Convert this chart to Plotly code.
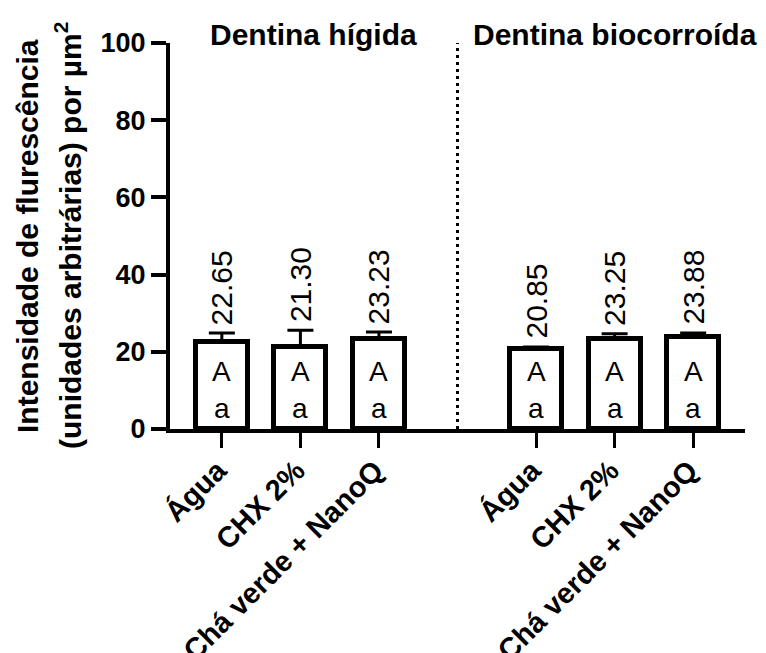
import plotly.graph_objects as go

# ---- data ----
groups = ["Dentina hígida", "Dentina biocorroída"]
treatments = ["Água", "CHX 2%", "Chá verde + NanoQ"]
means_higida = [22.65, 21.30, 23.23]
means_bio = [20.85, 23.25, 23.88]
err_higida = [2.2, 4.3, 1.9]
err_bio = [0.4, 1.4, 1.0]
upper_letters = ["A", "A", "A", "A", "A", "A"]
lower_letters = ["a", "a", "a", "a", "a", "a"]
y_ticks = [0, 20, 40, 60, 80, 100]
y_title_lines = ["Intensidade de flurescência", "(unidades arbitrárias) por µm<sup>2</sup>"]

# ---- derived ----
n = len(treatments)
means = means_higida + means_bio
errs = err_higida + err_bio
pos = [g * (n + 1) + i for g in range(len(groups)) for i in range(n)]
labels = treatments * len(groups)

FONT = "Liberation Sans, Arial, Helvetica, sans-serif"

fig = go.Figure()
fig.add_trace(go.Bar(
    x=pos, y=means, width=0.66,
    marker=dict(color="white", line=dict(color="black", width=5)),
    error_y=dict(type="data", symmetric=False, array=errs,
                 arrayminus=[0] * len(errs), color="black",
                 thickness=3, width=13),
    hoverinfo="skip", showlegend=False,
))

ann = []
for x, m, e in zip(pos, means, errs):
    ann.append(dict(x=x, y=m + e, xref="x", yref="y", text=f"{m:.2f}",
                    textangle=-90, showarrow=False, xanchor="center",
                    yanchor="bottom", yshift=6,
                    font=dict(family=FONT, size=30, color="black")))
for x, up, lo in zip(pos, upper_letters, lower_letters):
    ann.append(dict(x=x, y=15.0, xref="x", yref="y", text=up, showarrow=False,
                    xanchor="center", yanchor="middle",
                    font=dict(family=FONT, size=28, color="black")))
    ann.append(dict(x=x, y=5.4, xref="x", yref="y", text=lo, showarrow=False,
                    xanchor="center", yanchor="middle",
                    font=dict(family=FONT, size=28, color="black")))

title_shift = [13, 0]
for g, name in enumerate(groups):
    cx = g * (n + 1) + (n - 1) / 2
    ann.append(dict(x=cx, y=1, xref="x", yref="paper", text=f"<b>{name}</b>",
                    showarrow=False, xanchor="center", yanchor="middle",
                    xshift=title_shift[g], yshift=9,
                    font=dict(family=FONT, size=30, color="black")))

for k, (line, xs) in enumerate(zip(y_title_lines, [-143, -102])):
    ann.append(dict(x=0, y=0.5, xref="paper", yref="paper", text=f"<b>{line}</b>",
                    textangle=-90, showarrow=False, xanchor="center",
                    yanchor="middle", xshift=xs,
                    font=dict(family=FONT, size=30, color="black")))

sep_x = n  # between groups
fig.add_shape(type="line", x0=sep_x, x1=sep_x, y0=0, y1=100, xref="x", yref="y",
              line=dict(color="black", width=3, dash="3px,4px"))

fig.update_layout(
    width=758, height=645,
    margin=dict(l=162, r=21, t=35, b=224, autoexpand=False),
    plot_bgcolor="white", paper_bgcolor="white",
    annotations=ann,
    bargap=0,
    xaxis=dict(range=[-0.66, 6.66], tickvals=pos, ticktext=[f"<b>{t}</b>" for t in labels],
               tickangle=-45, ticks="outside", ticklen=15, tickwidth=3,
               ticklabelshift=-4, ticklabelstandoff=-6,
               tickcolor="black", showline=True, linecolor="black", linewidth=4,
               showgrid=False, zeroline=False, automargin=False,
               tickfont=dict(family=FONT, size=29, color="black")),
    yaxis=dict(range=[0, 100], tickvals=y_ticks,
               ticktext=[f"<b>{t}</b>" for t in y_ticks],
               ticks="outside", ticklen=15, tickwidth=4, tickcolor="black",
               showline=True, linecolor="black", linewidth=4,
               showgrid=False, zeroline=False, automargin=False,
               tickfont=dict(family=FONT, size=27, color="black")),
)

fig.write_html("out.html")
